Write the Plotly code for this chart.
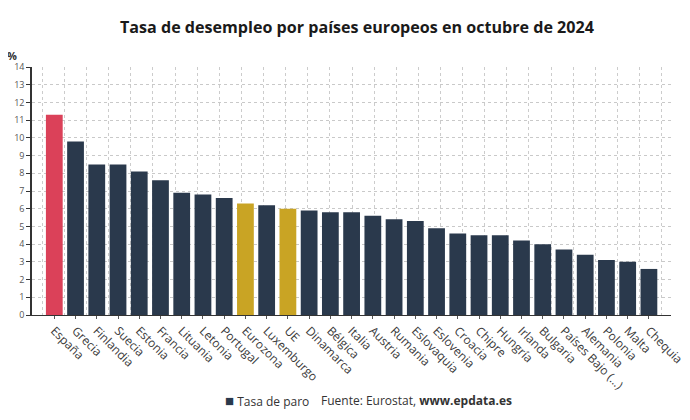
import plotly.graph_objects as go

paises = ["España", "Grecia", "Finlandia", "Suecia", "Estonia", "Francia", "Lituania",
          "Letonia", "Portugal", "Eurozona", "Luxemburgo", "UE", "Dinamarca", "Bélgica",
          "Italia", "Austria", "Rumania", "Eslovaquia", "Eslovenia", "Croacia", "Chipre",
          "Hungría", "Irlanda", "Bulgaria", "Países Bajo (...)", "Alemania", "Polonia",
          "Malta", "Chequia"]
tasa = [11.3, 9.8, 8.5, 8.5, 8.1, 7.6, 6.9, 6.8, 6.6, 6.3, 6.2, 6.0, 5.9, 5.8,
        5.8, 5.6, 5.4, 5.3, 4.9, 4.6, 4.5, 4.5, 4.2, 4.0, 3.7, 3.4, 3.1, 3.0, 2.6]

ROJO = "#db4159"
AZUL = "#2a394c"
ORO = "#c9a424"
colores = [ROJO if p == "España" else ORO if p in ("Eurozona", "UE") else AZUL for p in paises]

fig = go.Figure()
fig.add_trace(go.Bar(x=paises, y=tasa, marker=dict(color=colores, line=dict(width=0)),
                     showlegend=False, hoverinfo="x+y"))
fig.add_trace(go.Scatter(x=[None], y=[None], mode="markers", name="Tasa de paro",
                         marker=dict(symbol="square", size=10, color=AZUL),
                         xaxis="x2", showlegend=False))

FONT = "Open Sans, Noto Sans, sans-serif"
fig.update_layout(
    width=682, height=412,
    margin=dict(l=24, r=19, t=59, b=105),
    paper_bgcolor="white", plot_bgcolor="white",
    font=dict(family=FONT, color="#333"),
    title=dict(text="<b>Tasa de desempleo por países europeos en octubre de 2024</b>",
               x=0.5117, xanchor="center", y=0.954, yanchor="middle",
               font=dict(size=16.1, color="#1a1a1a", family=FONT)),
    bargap=0.21,
    showlegend=False,
    xaxis=dict(type="category", range=[-1.05, 29.04], showgrid=False, automargin=False,
               tickangle=45, tickfont=dict(size=12, color="#3a3a3a"),
               showline=True, linecolor="#333", linewidth=1,
               ticks="outside", ticklen=3, tickcolor="#555", zeroline=False),
    xaxis2=dict(overlaying="x", range=[-0.466, 28.42], tick0=0, dtick=1, automargin=False,
                showgrid=True, griddash="dot", gridcolor="#cccccc", gridwidth=1,
                showticklabels=False, ticks="", zeroline=False, showline=False),
    yaxis=dict(range=[0, 14], dtick=1, showgrid=True, griddash="dot", automargin=False,
               gridcolor="#c9c9c9", gridwidth=1, showline=True, linecolor="#333",
               linewidth=1.5, ticks="outside", ticklen=4, tickcolor="#333",
               tickfont=dict(size=9, color="#555"), zeroline=False),
    annotations=[
        dict(text="<b>%</b>", xref="paper", yref="paper", x=-0.031, y=1.048, xanchor="center",
             yanchor="middle", showarrow=False, font=dict(size=11, color="#333")),
        dict(text=f"<span style='color:{AZUL};font-size:15px'>■</span> Tasa de paro",
             xref="paper", yref="paper",
             x=0.299, y=-0.343, xanchor="left", yanchor="middle", showarrow=False,
             font=dict(size=12, color="#333")),
        dict(text="Fuente: Eurostat, <b>www.epdata.es</b>", xref="paper", yref="paper",
             x=0.449, y=-0.343, xanchor="left", yanchor="middle", showarrow=False,
             font=dict(size=12, color="#333")),
    ],
)

fig.write_html("out.html")
